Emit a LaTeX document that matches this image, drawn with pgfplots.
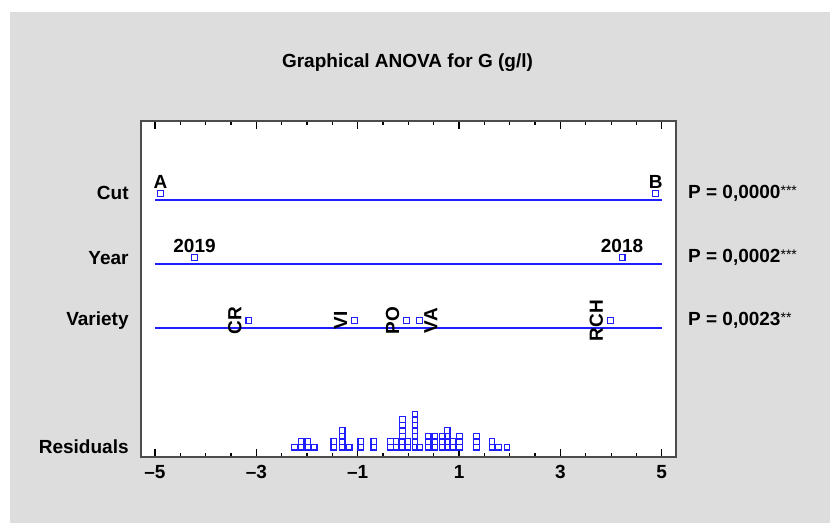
\documentclass[border=0pt]{standalone}
\usepackage{fontspec}
\setmainfont{Liberation Sans}
\usepackage{pgfplots}
\usepackage{pgfplotstable}
\pgfplotsset{compat=1.18}

\definecolor{bg}{RGB}{221,221,221}
\definecolor{effblue}{RGB}{30,30,255}
\newcommand{\lbl}{\fontsize{9.5}{11}\selectfont\bfseries}
\newcommand{\stars}[1]{\raisebox{1.6pt}{\fontsize{7}{8}\selectfont\mdseries #1}}

% residuals: value and stack level in the dot plot
\pgfplotstableread{
v      r
-2.243 1
-2.120 1
-1.986 1
-1.858 1
-2.120 2
-1.986 2
-1.473 1
-1.473 2
-1.304 1
-1.304 2
-1.304 3
-1.304 4
-1.167 1
-0.938 1
-0.938 2
-0.684 1
-0.684 2
-0.352 1
-0.352 2
-0.244 1
-0.244 2
-0.119 1
-0.119 2
-0.119 3
-0.119 4
-0.119 5
-0.119 6
-0.017 1
-0.017 2
0.131  1
0.131  2
0.131  3
0.131  4
0.131  5
0.131  6
0.131  7
0.224  1
0.388  1
0.388  2
0.388  3
0.520  1
0.520  2
0.520  3
0.668  1
0.668  2
0.668  3
0.767  1
0.767  2
0.767  3
0.767  4
0.881  1
0.881  2
1.013  1
1.013  2
1.013  3
1.341  1
1.341  2
1.341  3
1.652  1
1.652  2
1.775  1
1.947  1
}\residuals

\begin{document}
\begin{tikzpicture}[font=\lbl]
\useasboundingbox (0,0) rectangle (415pt,261.5pt);
\fill[white] (0,0) rectangle (415pt,261.5pt);
\fill[bg] (5pt,0) rectangle (415pt,255.5pt);
\node at (203.75pt,230pt) {Graphical ANOVA for G (g/l)};
\begin{axis}[
  at={(70.5pt,33.15pt)}, anchor=south west,
  scale only axis, width=267.35pt, height=167.85pt,
  xmin=-5.276, xmax=5.276, ymin=0, ymax=335.7,
  axis background/.style={fill=white},
  axis line style={draw=black!70, line width=0.9pt},
  xtick={-5,-3,-1,1,3,5},
  xticklabels={--5,--3,--1,1,3,5},
  minor x tick num=3,
  major tick length=3.8pt, minor tick length=1.8pt,
  tick style={black, line width=0.55pt},
  ytick={9.5,136,199,263.4},
  yticklabels={Residuals,Variety,Year,Cut},
  ytick style={draw=none},
  yticklabel pos=left,
  tick label style={font=\lbl},
  xticklabel style={inner sep=0pt, yshift=-4pt},
  yticklabel style={inner sep=0pt, xshift=-6pt},
  every axis plot/.append style={effblue},
  clip=false,
]
% effect lines
\addplot[line width=0.9pt, no marks] coordinates {(-5,256.4) (5,256.4)};
\addplot[line width=0.9pt, no marks] coordinates {(-5,193) (5,193)};
\addplot[line width=0.9pt, no marks] coordinates {(-5,128.7) (5,128.7)};
% Cut
\addplot[only marks, mark=square, mark size=1.45pt, line width=0.6pt,
  nodes near coords, point meta=explicit symbolic,
  nodes near coords style={black, anchor=south, inner sep=2pt}]
  coordinates {(-4.89,263.4) [A] (4.88,263.4) [B]};
% Year
\addplot[only marks, mark=square, mark size=1.45pt, line width=0.6pt,
  nodes near coords, point meta=explicit symbolic,
  nodes near coords style={black, anchor=south, inner sep=2pt}]
  coordinates {(-4.22,199) [2019] (4.217,199) [2018]};
% Variety
\addplot[only marks, mark=square, mark size=1.45pt, line width=0.6pt,
  nodes near coords, point meta=explicit symbolic,
  nodes near coords style={black, rotate=90, anchor=south, inner sep=3.4pt}]
  coordinates {(-3.145,136) [CR] (-1.06,136) [VI] (-0.033,136) [PO] (3.986,136) [RCH]};
\addplot[only marks, mark=square, mark size=1.45pt, line width=0.6pt,
  nodes near coords, point meta=explicit symbolic,
  nodes near coords style={black, rotate=90, anchor=north, inner sep=2pt}]
  coordinates {(0.224,136) [VA]};
% residuals
\addplot[only marks, mark=square, mark size=1.4pt, line width=0.6pt]
  table[x=v, y expr={9.5+5.5*(\thisrow{r}-1)}] {\residuals};
% p-values
\node[anchor=west, inner sep=0pt, xshift=6pt] at (axis cs:5.276,263.4) {P = 0,0000\stars{***}};
\node[anchor=west, inner sep=0pt, xshift=6pt] at (axis cs:5.276,199) {P = 0,0002\stars{***}};
\node[anchor=west, inner sep=0pt, xshift=6pt] at (axis cs:5.276,136) {P = 0,0023\stars{**}};
\end{axis}
\end{tikzpicture}
\end{document}
